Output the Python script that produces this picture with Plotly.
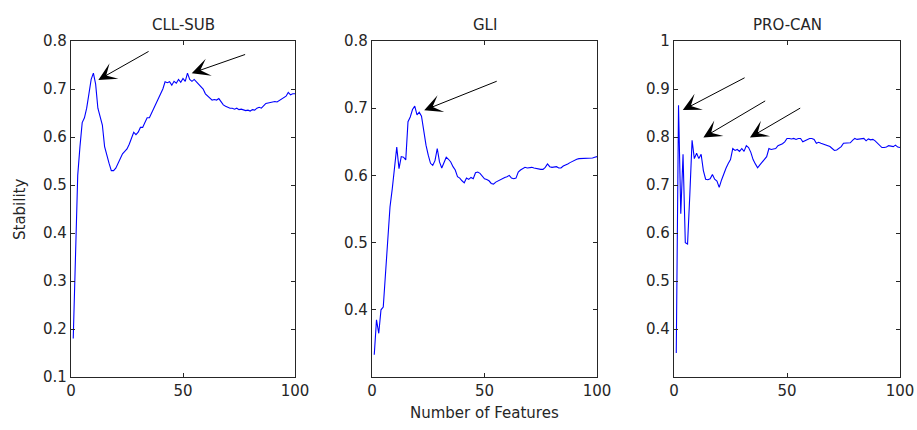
import numpy as np
import plotly.graph_objects as go

# Number of selected features (1..100)
n_features = list(range(1, 101))

# Stability curves per dataset
cll_sub = [
    0.18, 0.38, 0.52, 0.58, 0.63, 0.64, 0.66, 0.69, 0.72, 0.733,
    0.71, 0.66, 0.645, 0.625, 0.58, 0.56, 0.545, 0.53, 0.53, 0.535,
    0.545, 0.555, 0.565, 0.57, 0.575, 0.585, 0.60, 0.61, 0.605, 0.61,
    0.62, 0.62, 0.63, 0.64, 0.64, 0.65, 0.66, 0.67, 0.68, 0.69,
    0.70, 0.715, 0.713, 0.715, 0.708, 0.716, 0.712, 0.72, 0.714, 0.722,
    0.716, 0.733, 0.72, 0.716, 0.72, 0.715, 0.71, 0.705, 0.70, 0.69,
    0.685, 0.68, 0.677, 0.678, 0.677, 0.68, 0.672, 0.667, 0.664, 0.662,
    0.66, 0.66, 0.658, 0.66, 0.657, 0.658, 0.656, 0.655, 0.656, 0.654,
    0.657, 0.656, 0.66, 0.662, 0.66, 0.666, 0.67, 0.671, 0.672, 0.672,
    0.674, 0.673, 0.676, 0.68, 0.682, 0.685, 0.693, 0.688, 0.69, 0.69,
]

gli = [
    0.333, 0.385, 0.365, 0.40, 0.404, 0.45, 0.51, 0.553, 0.58, 0.615,
    0.642, 0.61, 0.628, 0.627, 0.623, 0.68, 0.687, 0.698, 0.703, 0.69,
    0.694, 0.688, 0.665, 0.645, 0.63, 0.618, 0.615, 0.622, 0.64, 0.62,
    0.611, 0.62, 0.627, 0.624, 0.62, 0.613, 0.608, 0.598, 0.596, 0.592,
    0.589, 0.596, 0.594, 0.597, 0.595, 0.604, 0.605, 0.603, 0.598, 0.595,
    0.594, 0.592, 0.588, 0.587, 0.59, 0.592, 0.594, 0.595, 0.597, 0.598,
    0.60, 0.596, 0.595, 0.596, 0.605, 0.608, 0.61, 0.612, 0.611, 0.612,
    0.612, 0.611, 0.61, 0.61, 0.609, 0.609, 0.612, 0.617, 0.613, 0.612,
    0.612, 0.613, 0.611, 0.611, 0.614, 0.615, 0.617, 0.619, 0.621, 0.623,
    0.624, 0.625, 0.625, 0.625, 0.625, 0.625, 0.625, 0.626, 0.627, 0.628,
]

pro_can = [
    0.35, 0.866, 0.64, 0.764, 0.58, 0.577, 0.68, 0.793, 0.755, 0.766,
    0.755, 0.764, 0.73, 0.712, 0.711, 0.713, 0.722, 0.712, 0.708, 0.695,
    0.71, 0.725, 0.735, 0.745, 0.753, 0.776, 0.772, 0.774, 0.770, 0.776,
    0.770, 0.782, 0.778, 0.768, 0.753, 0.744, 0.736, 0.742, 0.748, 0.755,
    0.759, 0.776, 0.774, 0.775, 0.776, 0.782, 0.784, 0.786, 0.79, 0.797,
    0.797, 0.796, 0.797, 0.795, 0.797, 0.797, 0.79, 0.792, 0.795, 0.797,
    0.797, 0.795, 0.787, 0.789, 0.787, 0.785, 0.783, 0.782, 0.78, 0.776,
    0.772, 0.773, 0.776, 0.78, 0.787, 0.787, 0.788, 0.788, 0.793, 0.797,
    0.795, 0.796, 0.797, 0.797, 0.792, 0.796, 0.794, 0.795, 0.792, 0.788,
    0.782, 0.778, 0.778, 0.779, 0.782, 0.781, 0.78, 0.783, 0.779, 0.778,
]

titles = ["CLL-SUB", "GLI", "PRO-CAN"]
y_ranges = [(0.1, 0.8), (0.3, 0.8), (0.3, 1.0)]
y_ticks = [
    [0.1, 0.2, 0.3, 0.4, 0.5, 0.6, 0.7, 0.8],
    [0.4, 0.5, 0.6, 0.7, 0.8],
    [0.4, 0.5, 0.6, 0.7, 0.8, 0.9, 1.0],
]
y_ticktext = [
    ["0.1", "0.2", "0.3", "0.4", "0.5", "0.6", "0.7", "0.8"],
    ["0.4", "0.5", "0.6", "0.7", "0.8"],
    ["0.4", "0.5", "0.6", "0.7", "0.8", "0.9", "1"],
]
x_ticks = [0, 50, 100]

# Arrows pointing at the local peaks: (tail_x, tail_y, head_x, head_y)
peak_arrows = [
    [(35.3, 0.780, 12.2, 0.719), (78.4, 0.773, 53.9, 0.733)],
    [(56.1, 0.741, 23.2, 0.697)],
    [(31.9, 0.925, 3.9, 0.856), (41.0, 0.877, 13.0, 0.799), (56.5, 0.862, 33.6, 0.799)],
]

series = [cll_sub, gli, pro_can]

W, H = 917, 430
x_domains = [(71 / W, 295 / W), (372 / W, 597 / W), (674 / W, 900 / W)]
y_domain = (1 - 377 / H, 1 - 41 / H)

FONT = "DejaVu Sans, Verdana, sans-serif"
TXT = "#262626"

fig = go.Figure()
annotations = []

for i, (ys, title) in enumerate(zip(series, titles)):
    sfx = "" if i == 0 else str(i + 1)
    xref, yref = "x" + sfx, "y" + sfx
    fig.add_trace(go.Scatter(
        x=n_features, y=ys, mode="lines",
        line=dict(color="#0000ff", width=1.1),
        xaxis=xref, yaxis=yref, showlegend=False,
        hoverinfo="skip",
    ))
    axis_common = dict(
        showline=True, linecolor=TXT, linewidth=1.2, mirror="ticks",
        ticks="inside", ticklen=4, tickcolor=TXT, tickwidth=1,
        showgrid=False, zeroline=False, automargin=False,
        tickfont=dict(family=FONT, size=15, color=TXT),
    )
    fig.update_layout(**{
        "xaxis" + sfx: dict(
            domain=x_domains[i], range=[0, 100], tickvals=x_ticks,
            anchor=yref, **axis_common,
        ),
        "yaxis" + sfx: dict(
            domain=y_domain, range=list(y_ranges[i]), tickvals=y_ticks[i],
            ticktext=y_ticktext[i], anchor=xref, **axis_common,
        ),
    })
    annotations.append(dict(
        text=title, xref="paper", yref="paper",
        x=(x_domains[i][0] + x_domains[i][1]) / 2, y=1 - 25 / H,
        showarrow=False, font=dict(family=FONT, size=15, color=TXT),
        xanchor="center", yanchor="middle",
    ))
    for tx, ty, hx, hy in peak_arrows[i]:
        annotations.append(dict(
            x=hx, y=hy, ax=tx, ay=ty, xref=xref, yref=yref,
            axref=xref, ayref=yref, text="", showarrow=True,
            arrowhead=3, arrowsize=3, arrowwidth=1, arrowcolor="#000000",
        ))

annotations.append(dict(
    text="Stability", xref="paper", yref="paper",
    x=20 / W, y=1 - 209 / H, textangle=-90, showarrow=False,
    font=dict(family=FONT, size=15, color=TXT),
    xanchor="center", yanchor="middle",
))
annotations.append(dict(
    text="Number of Features", xref="paper", yref="paper",
    x=484 / W, y=1 - 413 / H, showarrow=False,
    font=dict(family=FONT, size=15, color=TXT),
    xanchor="center", yanchor="middle",
))

fig.update_layout(
    width=W, height=H,
    margin=dict(l=0, r=0, t=0, b=0, pad=0, autoexpand=False),
    paper_bgcolor="white", plot_bgcolor="white",
    annotations=annotations,
)

fig.write_html("out.html")
